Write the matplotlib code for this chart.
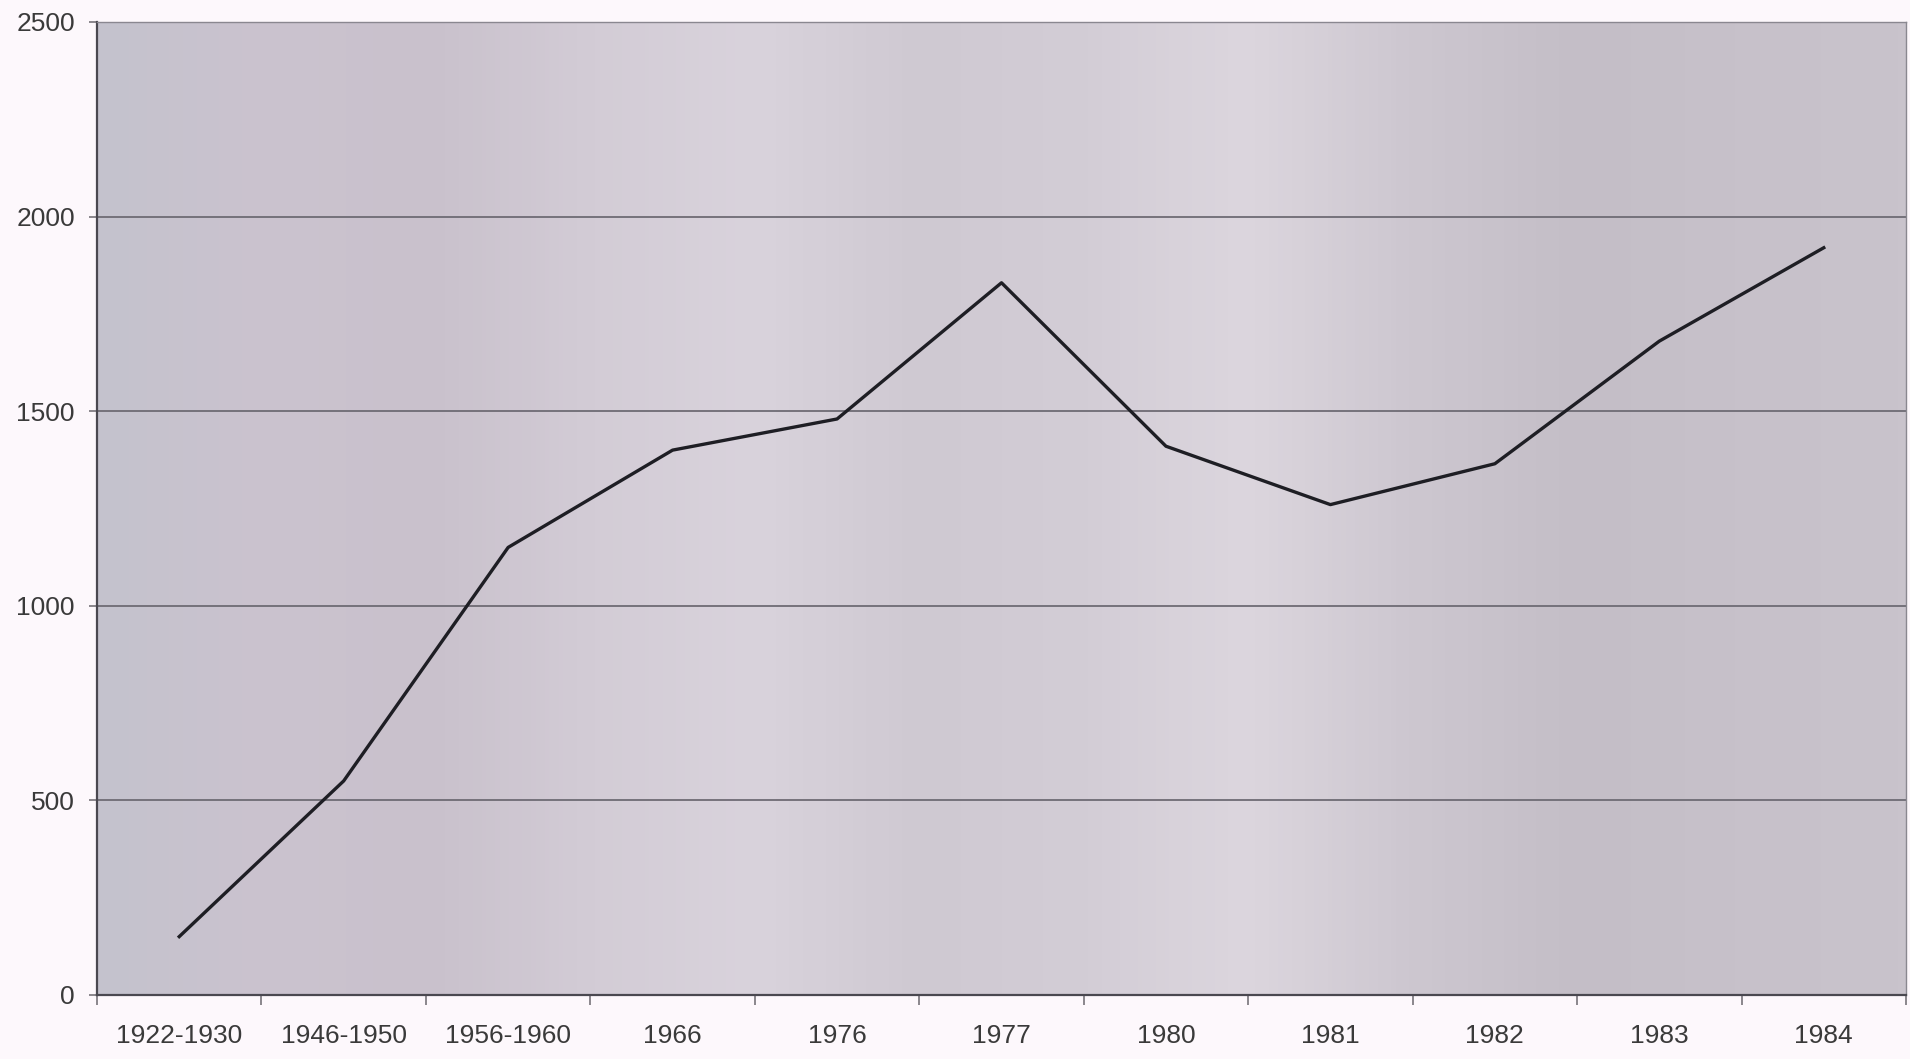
import matplotlib.pyplot as plt
from matplotlib.colors import LinearSegmentedColormap
import numpy as np

plt.rcParams['font.family'] = ['Liberation Sans', 'DejaVu Sans']

# chart data
categories = ["1922-1930", "1946-1950", "1956-1960", "1966", "1976", "1977",
              "1980", "1981", "1982", "1983", "1984"]
values = [150, 550, 1150, 1400, 1480, 1830, 1410, 1260, 1365, 1680, 1920]
y_ticks = [0, 500, 1000, 1500, 2000, 2500]

fig = plt.figure(figsize=(19.10, 10.59), dpi=100, facecolor='#fdf8fc')
ax = fig.add_axes([97 / 1910, 1 - 995 / 1059, (1906 - 97) / 1910, (995 - 22) / 1059])

x = np.arange(len(categories))

# scanned paper look: soft vertical bands behind the plot
band_colors = ['#c4c2cd', '#cbc3cf', '#c9c1cc', '#d3ccd6', '#d9d3dc', '#cfc9d2',
               '#d3cdd6', '#dcd6de', '#cdc7d0', '#c4bec7', '#c7c1ca', '#c9c3cc']
cmap = LinearSegmentedColormap.from_list('bands', band_colors)
ax.imshow(np.linspace(0, 1, 400).reshape(1, -1), cmap=cmap, aspect='auto',
          extent=[-0.5, len(categories) - 0.5, 0, 2500], zorder=0)

ax.set_ylim(0, 2500)
ax.set_xlim(-0.5, len(categories) - 0.5)
ax.set_yticks(y_ticks)
ax.grid(axis='y', color='#6e6b74', linewidth=1.3, zorder=1)

ax.plot(x, values, color='#1e1e24', linewidth=2.4, zorder=3)

ax.set_xticks(x)
ax.set_xticklabels(categories)
ax.set_xticks(np.arange(len(categories) + 1) - 0.5, minor=True)
ax.tick_params(axis='x', which='major', length=0, pad=21, labelsize=19, labelcolor='#3a3a3a')
ax.tick_params(axis='x', which='minor', length=7, width=1.2, color='#77737a')
ax.tick_params(axis='y', length=6, width=1.2, color='#77737a', pad=10,
               labelsize=19, labelcolor='#3a3a3a')

for side in ['left', 'bottom']:
    ax.spines[side].set_color('#4a4850')
    ax.spines[side].set_linewidth(1.6)
for side in ['top', 'right']:
    ax.spines[side].set_color('#8a8790')
    ax.spines[side].set_linewidth(1.0)

fig.savefig('out.png', dpi=100, facecolor=fig.get_facecolor())
